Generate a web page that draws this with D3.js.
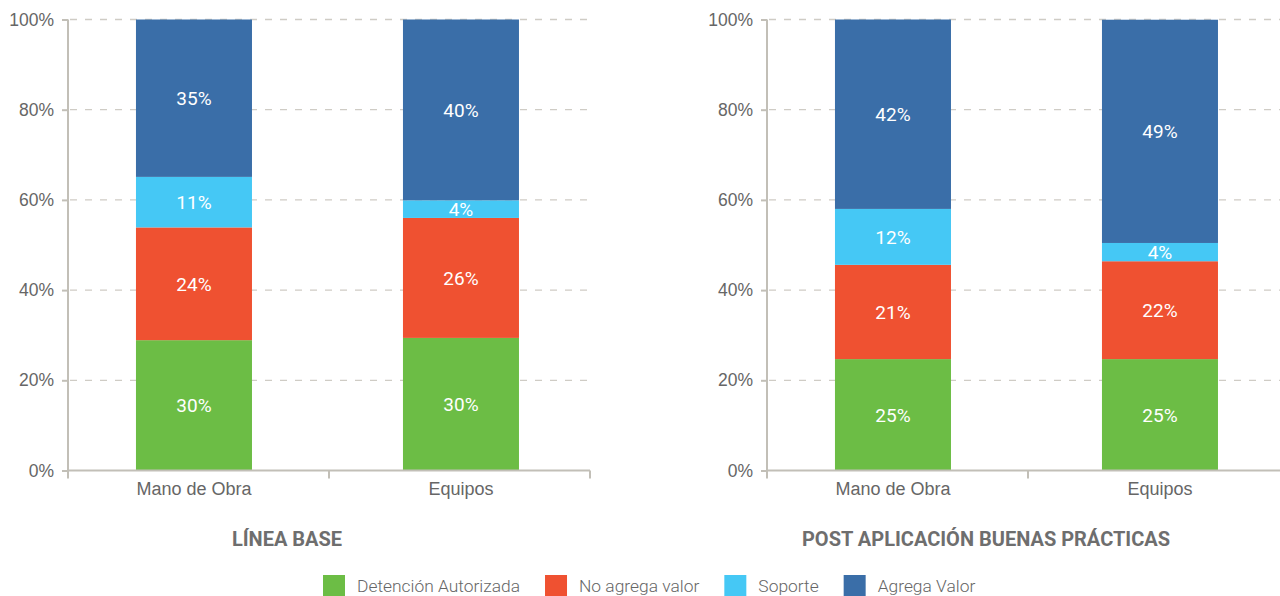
<!DOCTYPE html>
<html>
<head>
<meta charset="utf-8">
<script src="https://cdn.jsdelivr.net/npm/d3@7"></script>
<style>
  html, body { margin: 0; padding: 0; background: #fff; }
  svg { display: block; font-family: Roboto, 'Liberation Sans', sans-serif; font-weight: 300; }
</style>
</head>
<body>
<div class="chart"></div>
<script>
// categories and series
const categories = ['Mano de Obra', 'Equipos'];
const seriesNames = ['Detención Autorizada', 'No agrega valor', 'Soporte', 'Agrega Valor'];
const seriesColors = ['#6cbd45', '#ef5131', '#45c8f5', '#3a6ea8'];
const yTicks = [0, 20, 40, 60, 80, 100];

// Línea base (share of time, %)
const baseDetencion = [28.9, 29.4];
const baseNoAgrega = [25.0, 26.6];
const baseSoporte = [11.2, 3.9];
const baseAgrega = [34.9, 40.1];
const baseLabels = [['30%', '30%'], ['24%', '26%'], ['11%', '4%'], ['35%', '40%']];

// Post aplicación buenas prácticas
const postDetencion = [24.7, 24.7];
const postNoAgrega = [20.9, 21.7];
const postSoporte = [12.4, 4.05];
const postAgrega = [42.0, 49.5];
const postLabels = [['25%', '25%'], ['21%', '22%'], ['12%', '4%'], ['42%', '49%']];

const panels = [
  { title: 'LÍNEA BASE', series: [baseDetencion, baseNoAgrega, baseSoporte, baseAgrega], labels: baseLabels, x0: 68, x1: 590 },
  { title: 'POST APLICACIÓN BUENAS PRÁCTICAS', series: [postDetencion, postNoAgrega, postSoporte, postAgrega], labels: postLabels, x0: 767, x1: 1289 },
];

const width = 1280;
const height = 596;
const axisColor = '#c2bfb7';
const textColor = '#666';

const svg = d3.select('.chart').append('svg').attr('width', width).attr('height', height);

const y = d3.scaleLinear().domain([0, 100]).range([470.5, 19.5]);

panels.forEach((panel) => {
  const g = svg.append('g');

  const x = d3
    .scaleBand()
    .domain(categories)
    .range([panel.x0, panel.x1])
    .paddingInner(0.5655)
    .paddingOuter(0.2603)
    .align(0.489);

  // dashed grid
  g.append('g')
    .selectAll('line')
    .data(yTicks.filter((t) => t > 0))
    .join('line')
    .attr('x1', panel.x0 + 2)
    .attr('x2', panel.x1 + 2)
    .attr('y1', (d) => y(d))
    .attr('y2', (d) => y(d))
    .attr('stroke', '#cfccc5')
    .attr('stroke-width', 1.3)
    .attr('stroke-dasharray', '7,8');

  // stacked bars
  const rows = categories.map((c, i) => {
    const row = { category: c };
    seriesNames.forEach((s, k) => (row[s] = panel.series[k][i]));
    return row;
  });
  const stacked = d3.stack().keys(seriesNames)(rows);

  stacked.forEach((layer, k) => {
    g.append('g')
      .attr('fill', seriesColors[k])
      .selectAll('rect')
      .data(layer)
      .join('rect')
      .attr('x', (d) => x(d.data.category))
      .attr('width', x.bandwidth())
      .attr('y', (d) => y(d[1]))
      .attr('height', (d) => y(d[0]) - y(d[1]));

    g.append('g')
      .selectAll('text')
      .data(layer)
      .join('text')
      .attr('x', (d) => x(d.data.category) + x.bandwidth() / 2)
      .attr('y', (d) => (y(d[0]) + y(d[1])) / 2)
      .attr('dy', '0.36em')
      .attr('text-anchor', 'middle')
      .attr('fill', '#fff')
      .style('font-size', '19px')
      .style('font-weight', 400)
      .text((d, i) => panel.labels[k][i]);
  });

  // y axis
  const yAxis = g
    .append('g')
    .attr('transform', `translate(${panel.x0},0)`)
    .call(d3.axisLeft(y).tickValues(yTicks).tickSize(6).tickPadding(8).tickFormat((d) => d + '%'));
  yAxis.select('.domain').remove();
  yAxis.selectAll('.tick line').attr('stroke', axisColor).attr('stroke-width', 2);
  yAxis.selectAll('.tick text').attr('fill', textColor).style('font-size', '17.5px').style('font-family', null);

  g.append('line')
    .attr('x1', panel.x0)
    .attr('x2', panel.x0)
    .attr('y1', y(100))
    .attr('y2', y(0) + 8)
    .attr('stroke', axisColor)
    .attr('stroke-width', 2);

  // x axis
  const xAxis = g
    .append('g')
    .attr('transform', `translate(0,${y(0)})`)
    .call(d3.axisBottom(x).tickSize(0).tickPadding(12));
  xAxis.select('.domain').remove();
  xAxis.selectAll('.tick text').attr('fill', textColor).style('font-size', '18px').style('font-family', null);

  g.append('line')
    .attr('x1', panel.x0)
    .attr('x2', panel.x1)
    .attr('y1', y(0))
    .attr('y2', y(0))
    .attr('stroke', axisColor)
    .attr('stroke-width', 2);

  // tick marks at the band edges
  const edge = (i) => panel.x0 + ((panel.x1 - panel.x0) * (i + 1)) / categories.length;
  g.append('g')
    .selectAll('line')
    .data(categories)
    .join('line')
    .attr('x1', (d, i) => edge(i))
    .attr('x2', (d, i) => edge(i))
    .attr('y1', y(0))
    .attr('y2', y(0) + 8)
    .attr('stroke', axisColor)
    .attr('stroke-width', 2);

  // panel title
  g.append('text')
    .attr('x', (panel.x0 + panel.x1) / 2 - 42)
    .attr('y', 546)
    .attr('text-anchor', 'middle')
    .attr('fill', '#6e6e6e')
    .style('font-size', '20px')
    .style('font-weight', 'bold')
    .text(panel.title);
});

// legend
const legend = svg.append('g').attr('transform', 'translate(323,0)');
let lx = 0;
seriesNames.forEach((name, k) => {
  legend.append('rect').attr('x', lx).attr('y', 575).attr('width', 22).attr('height', 22).attr('fill', seriesColors[k]);
  const t = legend
    .append('text')
    .attr('x', lx + 34)
    .attr('y', 592)
    .attr('fill', textColor)
    .style('font-size', '17.4px')
    .text(name);
  lx += 34 + t.node().getComputedTextLength() + 25;
});
</script>
</body>
</html>
